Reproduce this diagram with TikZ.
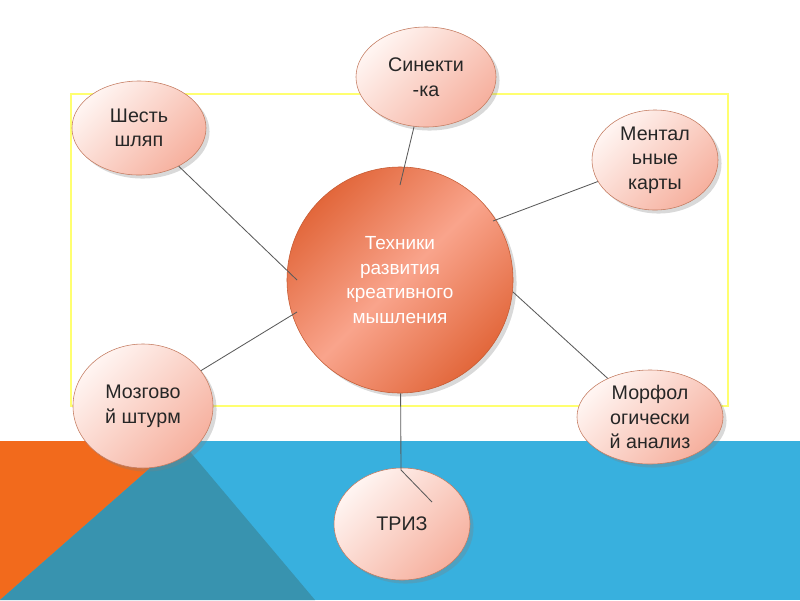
\documentclass[tikz,border=0pt]{standalone}
\usepackage{fontspec}
\setmainfont{Liberation Sans}
\usepackage{tikz}
\usetikzlibrary{shapes.geometric,shadows,calc}
\definecolor{BandBlue}{HTML}{38B0DE}
\definecolor{BandDark}{HTML}{3893AF}
\definecolor{BandOrange}{HTML}{F26A1C}
\definecolor{FrameYellow}{HTML}{FFFF70}
\definecolor{PetalLight}{HTML}{FFF5F2}
\definecolor{PetalDark}{HTML}{F6B09E}
\definecolor{PetalEdge}{HTML}{C47B60}
\definecolor{CoreDark}{HTML}{E2673B}
\definecolor{CoreLight}{HTML}{F9A48C}
\definecolor{CoreEdge}{HTML}{C45A32}
\definecolor{LinkGrey}{HTML}{5A5A5A}
\tikzset{
  % Satellite ellipse
  PT/.style={ellipse,draw=PetalEdge,thin,
             top color=PetalLight,bottom color=PetalDark,shading angle=45,
             inner sep=0pt,text centered,align=center,text=black!85,
             font=\fontsize{14}{17.5}\selectfont,
             drop shadow={shadow xshift=2.5pt,shadow yshift=-2.5pt,opacity=0.3}},
  % Central circle
  CR/.style={circle,draw=CoreEdge,thin,minimum size=5.65cm,
             top color=CoreDark,bottom color=CoreDark,middle color=CoreLight,
             shading angle=45,inner sep=0pt,text centered,align=center,
             text=white,font=\fontsize{13.5}{17.5}\selectfont,
             drop shadow={shadow xshift=2.5pt,shadow yshift=-2.5pt,opacity=0.3}},
  % Connector
  lnk/.style={draw=LinkGrey,line width=0.6pt}
}

\begin{document}
\begin{tikzpicture}[x=0.025cm,y=-0.025cm]
  \useasboundingbox (0,0) rectangle (800,600);

  %------ BACKGROUND ------
  \fill[BandBlue] (0,441) rectangle (800,600);
  \fill[BandOrange] (0,441) -- (181,441) -- (0,600) -- cycle;
  \fill[BandDark] (181,441) -- (315,600) -- (0,600) -- cycle;
  \draw[FrameYellow,line width=0.8pt] (71,94) rectangle (728,406);

  %------ NODES ------
  \node[CR] (tech) at (400,280) {Техники\\развития\\креативного\\мышления};
  \node[PT,minimum width=3.5cm,minimum height=2.5cm]   (sin)  at (426,77)  {Синекти\\-ка};
  \node[PT,minimum width=3.35cm,minimum height=2.35cm] (shl)  at (139,128) {Шесть\\шляп};
  \node[PT,minimum width=3.15cm,minimum height=2.5cm]  (men)  at (655,160) {Ментал\\ьные\\карты};
  \node[PT,minimum width=3.5cm,minimum height=3.1cm]   (moz)  at (143,406) {Мозгово\\й штурм};
  \node[PT,minimum width=3.65cm,minimum height=2.35cm] (mor)  at (650,417) {Морфол\\огически\\й анализ};
  \node[PT,minimum width=3.4cm,minimum height=2.8cm]   (triz) at (402,524) {ТРИЗ};

  %------ CONNECTOR ENDS ------
  \coordinate (sinE) at (400,185);
  \coordinate (shlE) at (297,280);
  \coordinate (menE) at (493,221);
  \coordinate (mozE) at (297,312);
  \coordinate (morE) at (513,292);
  \coordinate (trzA) at (401,470);
  \coordinate (trzB) at (432,502);

  % connectors
  \draw[lnk] (sin) -- (sinE);
  \draw[lnk] (shl) -- (shlE);
  \draw[lnk] (men) -- (menE);
  \draw[lnk] (moz) -- (mozE);
  \draw[lnk] (mor) -- (morE);
  \draw[lnk] (tech) -- (trzA) -- (trzB);
\end{tikzpicture}
\end{document}
